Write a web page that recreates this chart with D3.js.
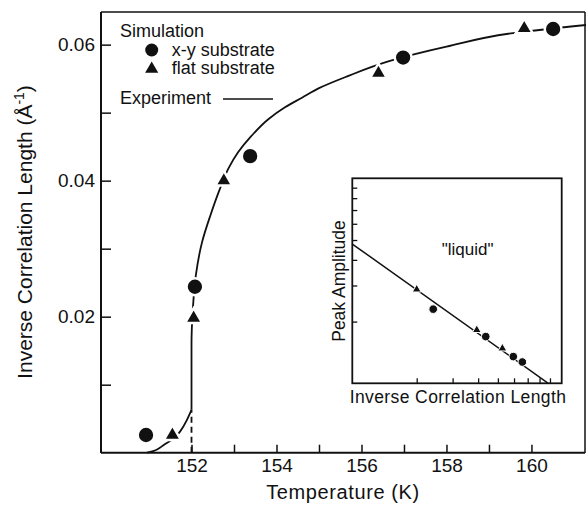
<!DOCTYPE html>
<html>
<head>
<meta charset="utf-8">
<script src="https://d3js.org/d3.v7.min.js"></script>
<style>
  html, body { margin: 0; padding: 0; background: #fff; }
  svg { font-family: "Liberation Sans", Arial, Helvetica, sans-serif; }
</style>
</head>
<body>
<div id="chart"></div>
<script>
// simulation points, x-y substrate (circles)
const xyTemp = [150.93, 152.08, 153.38, 156.98, 160.51];
const xyInv  = [0.0026, 0.0244, 0.0436, 0.0581, 0.0623];
// simulation points, flat substrate (triangles)
const flatTemp = [151.55, 152.05, 152.76, 156.4, 159.83];
const flatInv  = [0.0026, 0.0198, 0.0400, 0.0558, 0.0624];
// experiment curve, below the jump and above it
const expLowTemp = [150.95, 151.2, 151.34, 151.55, 151.73, 151.89, 152.0];
const expLowInv  = [0, 0.0005, 0.0011, 0.0020, 0.0031, 0.0048, 0.0063];
const expHighTemp = [152.0, 152.0, 152.03, 152.1, 152.25, 152.45, 152.65, 152.87, 153.1, 153.4, 153.8, 154.2, 154.6, 155.0, 155.65, 156.67, 158.0, 159.57, 161.3];
const expHighInv  = [0.0063, 0.016, 0.021, 0.026, 0.031, 0.035, 0.0385, 0.0418, 0.0442, 0.0465, 0.0490, 0.0508, 0.0522, 0.0536, 0.0553, 0.0576, 0.0597, 0.0617, 0.0629];
const xTicks = [152, 153, 154, 155, 156, 157, 158, 159, 160];
const xLabels = [152, 154, 156, 158, 160];
const yTicks = [0.01, 0.02, 0.03, 0.04, 0.05, 0.06];
const yLabels = [0.02, 0.04, 0.06];

// inset (log-log, no tick labels)
const insetCircX = [2.41, 4.36, 5.95, 6.59];
const insetCircY = [2.30, 1.69, 1.35, 1.27];
const insetTriX = [2.0, 3.94, 5.26];
const insetTriY = [2.87, 1.82, 1.48];
const insetLineX = [0.967, 8.83];
const insetLineY = [4.78, 1.0];
const insetTicks = [2, 3, 4, 5, 6, 7, 8, 9];

const width = 586, height = 507;
const ink = "#111";

const svg = d3.select("#chart").append("svg")
  .attr("width", width).attr("height", height);

// main scales
const x = d3.scaleLinear().domain([149.87, 161.26]).range([101, 585]);
const y = d3.scaleLinear().domain([0, 0.0648]).range([452.7, 12]);

// frame
svg.append("line").attr("x1", 101).attr("x2", 585).attr("y1", 12).attr("y2", 12)
  .attr("stroke", ink).attr("stroke-width", 1.5);
svg.append("line").attr("x1", 585).attr("x2", 585).attr("y1", 12).attr("y2", 453)
  .attr("stroke", ink).attr("stroke-width", 1.5);

// x axis
const xAxis = svg.append("g").attr("transform", "translate(0,452.7)")
  .call(d3.axisBottom(x).tickValues(xTicks).tickSize(-8).tickPadding(6)
    .tickFormat(d => xLabels.includes(d) ? d : ""));
// y axis
const yAxis = svg.append("g").attr("transform", "translate(101,0)")
  .call(d3.axisLeft(y).tickValues(yTicks).tickSize(-10).tickPadding(6)
    .tickFormat(d => yLabels.includes(d) ? d3.format(".2f")(d) : ""));

[xAxis, yAxis].forEach(a => {
  a.attr("font-family", null).attr("font-size", null);
  a.select(".domain").attr("stroke", ink).attr("stroke-width", 2);
  a.selectAll(".tick line").attr("stroke", ink).attr("stroke-width", 1.5);
  a.selectAll(".tick text").attr("fill", ink).style("font-size", "19px");
});
xAxis.select(".domain").attr("d", "M101,0H585");
yAxis.select(".domain").attr("d", "M0,12V453");

// axis titles
svg.append("text").attr("x", 343).attr("y", 499).attr("text-anchor", "middle")
  .style("font-size", "20px").style("letter-spacing", "0.6px").attr("fill", ink)
  .text("Temperature (K)");
const yt = svg.append("text")
  .attr("transform", "translate(32,232) rotate(-90)")
  .attr("text-anchor", "middle").style("font-size", "21px")
  .attr("fill", ink);
yt.append("tspan").text("Inverse Correlation Length (Å");
yt.append("tspan").attr("dy", -8).style("font-size", "14px").text("-1");
yt.append("tspan").attr("dy", 8).text(")");

// experiment curve
const lowLine = d3.line().x(i => x(expLowTemp[i])).y(i => y(expLowInv[i])).curve(d3.curveMonotoneX);
const highLine = d3.line().x(i => x(expHighTemp[i])).y(i => y(expHighInv[i])).curve(d3.curveMonotoneY);
svg.append("path").attr("d", lowLine(d3.range(expLowTemp.length)))
  .attr("fill", "none").attr("stroke", ink).attr("stroke-width", 1.8);
svg.append("path").attr("d", highLine(d3.range(expHighTemp.length)))
  .attr("fill", "none").attr("stroke", ink).attr("stroke-width", 1.8);
// dashed drop to the axis at the transition
svg.append("line").attr("x1", x(152)).attr("x2", x(152))
  .attr("y1", y(0)).attr("y2", y(expLowInv[expLowInv.length - 1]))
  .attr("stroke", ink).attr("stroke-width", 1.8).attr("stroke-dasharray", "6,4");

// markers
const tri = d3.symbol().type(d3.symbolTriangle);
svg.append("g").selectAll("circle").data(d3.range(xyTemp.length)).join("circle")
  .attr("cx", i => x(xyTemp[i])).attr("cy", i => y(xyInv[i])).attr("r", 8.4)
  .attr("fill", ink).attr("stroke", "#fff").attr("stroke-width", 2.5);
svg.append("g").selectAll("path").data(d3.range(flatTemp.length)).join("path")
  .attr("transform", i => `translate(${x(flatTemp[i])},${y(flatInv[i])})`)
  .attr("d", tri.size(125)())
  .attr("fill", ink).attr("stroke", "#fff").attr("stroke-width", 2.5);

// legend
const leg = svg.append("g").attr("fill", ink).style("font-size", "18px");
leg.append("text").attr("x", 120).attr("y", 37).text("Simulation");
leg.append("circle").attr("cx", 151.7).attr("cy", 50).attr("r", 6.5);
leg.append("text").attr("x", 171.7).attr("y", 55.5).text("x-y substrate");
leg.append("path").attr("transform", "translate(151.7,69)").attr("d", tri.size(75)());
leg.append("text").attr("x", 171.7).attr("y", 74).text("flat substrate");
leg.append("text").attr("x", 120).attr("y", 103.5).text("Experiment");
leg.append("line").attr("x1", 223).attr("x2", 273).attr("y1", 99).attr("y2", 99)
  .attr("stroke", ink).attr("stroke-width", 1.5);

// inset
const ix = d3.scaleLog().domain([1, 10]).range([355.3, 559.3]);
const iy = d3.scaleLog().domain([1, 10]).range([383.3, 178.3]);
const inset = svg.append("g");
inset.append("rect").attr("x", 352.3).attr("y", 178.3).attr("width", 209.4).attr("height", 205)
  .attr("fill", "#fff").attr("stroke", ink).attr("stroke-width", 1.8);
const ixAxis = inset.append("g").attr("transform", "translate(0,383.3)")
  .call(d3.axisBottom(ix).tickValues(insetTicks).tickSize(-5).tickFormat(""));
const iyAxis = inset.append("g").attr("transform", "translate(352.3,0)")
  .call(d3.axisLeft(iy).tickValues(insetTicks).tickSize(-5).tickFormat(""));
[ixAxis, iyAxis].forEach(a => {
  a.select(".domain").remove();
  a.selectAll(".tick line").attr("stroke", ink).attr("stroke-width", 1.3);
});
inset.append("path")
  .attr("d", d3.line().x(i => ix(insetLineX[i])).y(i => iy(insetLineY[i]))(d3.range(insetLineX.length)))
  .attr("stroke", ink).attr("stroke-width", 1.5).attr("fill", "none");
inset.append("g").selectAll("circle").data(d3.range(insetCircX.length)).join("circle")
  .attr("cx", i => ix(insetCircX[i])).attr("cy", i => iy(insetCircY[i])).attr("r", 4.3)
  .attr("fill", ink).attr("stroke", "#fff").attr("stroke-width", 1);
inset.append("g").selectAll("path").data(d3.range(insetTriX.length)).join("path")
  .attr("transform", i => `translate(${ix(insetTriX[i])},${iy(insetTriY[i])})`)
  .attr("d", tri.size(34)())
  .attr("fill", ink).attr("stroke", "#fff").attr("stroke-width", 1);
inset.append("text").attr("x", 441.7).attr("y", 255).attr("fill", ink)
  .style("font-size", "17px").text("\"liquid\"");
inset.append("text").attr("x", 458).attr("y", 403).attr("text-anchor", "middle")
  .attr("fill", ink).style("font-size", "17.5px").style("letter-spacing", "0.4px")
  .text("Inverse Correlation Length");
inset.append("text").attr("transform", "translate(345,281) rotate(-90)")
  .attr("text-anchor", "middle").attr("fill", ink).style("font-size", "17.5px")
  .text("Peak Amplitude");
</script>
</body>
</html>
